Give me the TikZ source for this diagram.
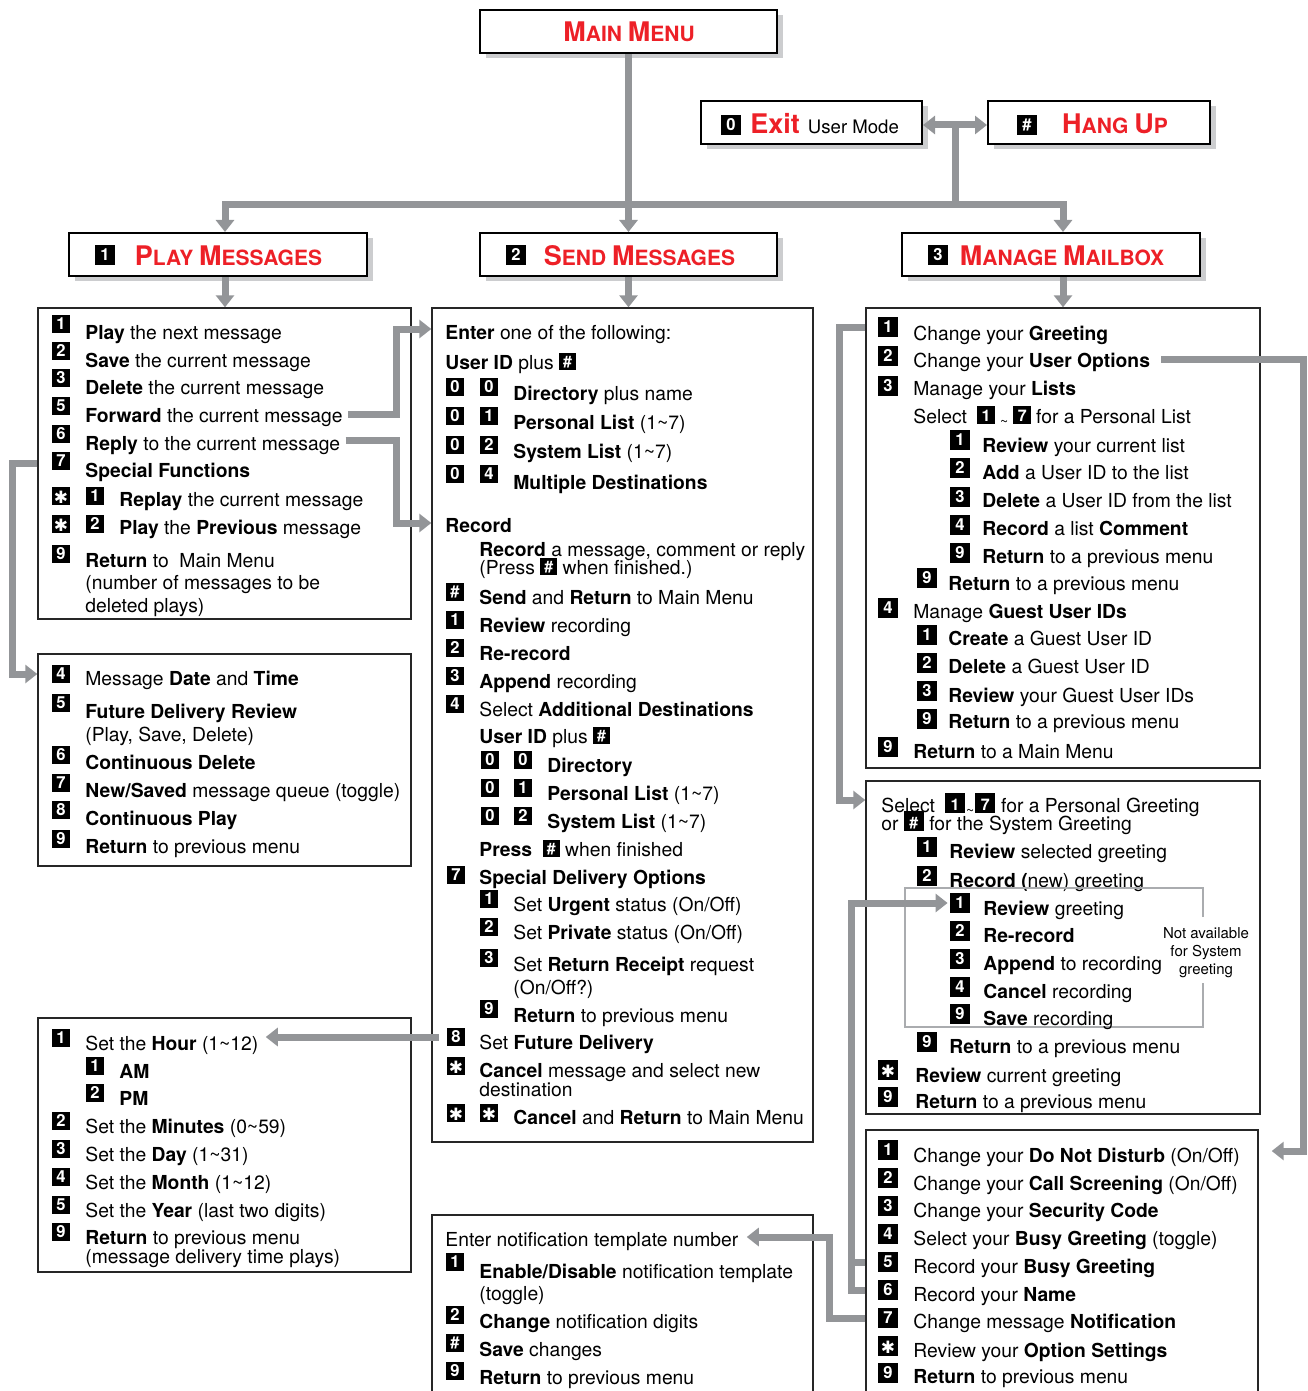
\documentclass[tikz,border=0pt]{standalone}
\usepackage{fontspec}
\setmainfont{TeX Gyre Heros}
\newfontfamily\symfont{DejaVu Sans}
\usetikzlibrary{arrows.meta,fit,shadows,calc}
\definecolor{menured}{RGB}{237,32,39}
\definecolor{conngray}{RGB}{147,149,152}
\definecolor{shadowgray}{RGB}{204,205,207}
\definecolor{innergray}{RGB}{170,172,175}
\newcommand{\bigc}[1]{{\fontsize{13.5}{14}\selectfont #1}}
\newcommand{\kstar}{\raisebox{-0.6pt}{\symfont\bfseries\fontsize{8.5}{8.5}\selectfont ✱}}
\newcommand{\ik}[2][8.5pt]{\raisebox{1pt}{\setlength{\fboxsep}{0pt}\colorbox{black}{\makebox[#1]{\rule[-1.7pt]{0pt}{#1}\textcolor{white}{\bfseries\fontsize{8}{8}\selectfont #2}}}}}
\newcommand{\lowtilde}{{\fontsize{7}{7}\selectfont\raisebox{-1.5pt}{\textasciitilde}}}
\begin{document}
\begin{tikzpicture}[x=0.5pt,y=-0.5pt,
	ttlbox/.style={draw=black,line width=1pt,fill=white,inner sep=0pt,
		drop shadow={shadow xshift=3pt,shadow yshift=-2.7pt,fill=shadowgray,opacity=1}},
	mbox/.style={draw=black!85,line width=0.7pt,inner sep=0pt},
	keyb/.style={fill=black,text=white,inner sep=0pt,minimum size=9pt,
		text height=5.9pt,text depth=0pt,font=\bfseries\fontsize{8.3}{8.3}\selectfont},
	bigkey/.style={keyb,minimum size=10pt},
	smallkey/.style={keyb,minimum size=8.6pt},
	txt/.style={anchor=base west,inner sep=0pt,text height=7pt,text depth=2pt,
		font=\fontsize{9.65}{11}\selectfont},
	ttl/.style={anchor=base,inner sep=0pt,text=menured,font=\bfseries\fontsize{10.5}{12}\selectfont},
	notetxt/.style={anchor=base,inner sep=0pt,font=\fontsize{7.5}{9}\selectfont},
	conn/.style={draw=conngray,line width=3.5pt,line join=miter},
	arr/.style={-{Triangle[width=9pt,length=6pt]}},
	arrs/.style={{Triangle[width=9pt,length=6pt]}-{Triangle[width=9pt,length=6pt]}}]
	\useasboundingbox (0,0) rectangle (1307,1391);
	\clip (0,0) rectangle (1307,1391);
	%标题框
	\node[ttlbox,fit={(480,10) (777,53)}] (mainbox) {};
	\node[ttl] (maint) at (629,42) {\bigc{M}AIN \bigc{M}ENU};
	\node[ttlbox,fit={(701,101) (922,144)}] (exitbox) {};
	\node[bigkey] (exitk) at (731,125) {0};
	\node[txt] (exitt) at (750,134) {\textcolor{menured}{\bfseries\fontsize{13.5}{14}\selectfont Exit}\hspace{4pt}{\fontsize{9.3}{11}\selectfont User Mode}};
	\node[ttlbox,fit={(988,101) (1210,144)}] (hangbox) {};
	\node[bigkey] (hangk) at (1027,125) {\#};
	\node[ttl] (hangt) at (1115,134) {\bigc{H}ANG \bigc{U}P};
	\node[ttlbox,fit={(69,233) (367,276)}] (playttl) {};
	\node[bigkey] (playk) at (105,255) {1};
	\node[ttl] (playt) at (228.5,265) {\bigc{P}LAY \bigc{M}ESSAGES};
	\node[ttlbox,fit={(480,233) (777,276)}] (sendttl) {};
	\node[bigkey] (sendk) at (516,255) {2};
	\node[ttl] (sendt) at (639.5,265) {\bigc{S}END \bigc{M}ESSAGES};
	\node[ttlbox,fit={(902,233) (1200,276)}] (mgrttl) {};
	\node[bigkey] (mgrk) at (938,255) {3};
	\node[ttl] (mgrt) at (1062,265) {\bigc{M}ANAGE \bigc{M}AILBOX};
	%播放消息
	\node[mbox,fit={(38,308) (411,619)}] (playbox) {};
	\node[keyb] (p1k) at (61,324) {1};
	\node[txt] (p1) at (85,339) {\textbf{Play} the next message};
	\node[keyb] (p2k) at (61,351) {2};
	\node[txt] (p2) at (85,367) {\textbf{Save} the current message};
	\node[keyb] (p3k) at (61,378) {3};
	\node[txt] (p3) at (85,394) {\textbf{Delete} the current message};
	\node[keyb] (p5k) at (61,406) {5};
	\node[txt] (p5) at (85,422) {\textbf{Forward} the current message};
	\node[keyb] (p6k) at (61,434) {6};
	\node[txt] (p6) at (85,450) {\textbf{Reply} to the current message};
	\node[keyb] (p7k) at (61,461) {7};
	\node[txt] (p7) at (85,477) {\textbf{Special Functions}};
	\node[keyb] (p8k) at (61,496) {\kstar};
	\node[keyb] (p8m) at (95,496) {1};
	\node[txt] (p8) at (119,506) {\textbf{Replay} the current message};
	\node[keyb] (p9k) at (61,524) {\kstar};
	\node[keyb] (p9m) at (95,524) {2};
	\node[txt] (p9) at (119,534) {\textbf{Play} the \textbf{Previous} message};
	\node[keyb] (p0k) at (61,554) {9};
	\node[txt] (p0) at (85,567) {\textbf{Return} to \ Main Menu};
	\node[txt] (p0b) at (85,589) {(number of messages to be};
	\node[txt] (p0c) at (85,612) {deleted plays)};
	%特殊功能
	\node[mbox,fit={(38,654) (411,866)}] (spbox) {};
	\node[keyb] (f4k) at (61,674) {4};
	\node[txt] (f4) at (85,685) {Message \textbf{Date} and \textbf{Time}};
	\node[keyb] (f5k) at (61,703) {5};
	\node[txt] (f5) at (85,718) {\textbf{Future Delivery Review}};
	\node[txt] (f5b) at (85,741) {(Play, Save, Delete)};
	\node[keyb] (f6k) at (61,755) {6};
	\node[txt] (f6) at (85,769) {\textbf{Continuous Delete}};
	\node[keyb] (f7k) at (61,783) {7};
	\node[txt] (f7) at (85,797) {\textbf{New/Saved} message queue (toggle)};
	\node[keyb] (f8k) at (61,810) {8};
	\node[txt] (f8) at (85,825) {\textbf{Continuous Play}};
	\node[keyb] (f9k) at (61,839) {9};
	\node[txt] (f9) at (85,853) {\textbf{Return} to previous menu};
	%时间设置
	\node[mbox,fit={(38,1018) (411,1272)}] (hourbox) {};
	\node[keyb] (h1k) at (61,1038) {1};
	\node[txt] (h1) at (85,1050) {Set the \textbf{Hour} (1\textasciitilde12)};
	\node[keyb] (h1ak) at (95,1066) {1};
	\node[txt] (h1a) at (119,1078) {\textbf{AM}};
	\node[keyb] (h1bk) at (95,1093) {2};
	\node[txt] (h1b) at (119,1105) {\textbf{PM}};
	\node[keyb] (h2k) at (61,1121) {2};
	\node[txt] (h2) at (85,1133) {Set the \textbf{Minutes} (0\textasciitilde59)};
	\node[keyb] (h3k) at (61,1149) {3};
	\node[txt] (h3) at (85,1161) {Set the \textbf{Day} (1\textasciitilde31)};
	\node[keyb] (h4k) at (61,1177) {4};
	\node[txt] (h4) at (85,1189) {Set the \textbf{Month} (1\textasciitilde12)};
	\node[keyb] (h5k) at (61,1205) {5};
	\node[txt] (h5) at (85,1217) {Set the \textbf{Year} (last two digits)};
	\node[keyb] (h9k) at (61,1232) {9};
	\node[txt] (h9) at (85,1244) {\textbf{Return} to previous menu};
	\node[txt] (h9b) at (85,1263) {(message delivery time plays)};
	%发送消息
	\node[mbox,fit={(432,308) (813,1142)}] (sendbox) {};
	\node[txt] (s0) at (445,339) {\textbf{Enter} one of the following:};
	\node[txt] (s1) at (445,369) {\textbf{User ID} plus \ik{\#}};
	\node[smallkey] (s2k) at (455,387) {0};
	\node[smallkey] (s2m) at (489,387) {0};
	\node[txt] (s2) at (513,400) {\textbf{Directory} plus name};
	\node[smallkey] (s3k) at (455,416) {0};
	\node[smallkey] (s3m) at (489,416) {1};
	\node[txt] (s3) at (513,429) {\textbf{Personal List} (1\textasciitilde7)};
	\node[smallkey] (s4k) at (455,445) {0};
	\node[smallkey] (s4m) at (489,445) {2};
	\node[txt] (s4) at (513,458) {\textbf{System List} (1\textasciitilde7)};
	\node[smallkey] (s5k) at (455,474) {0};
	\node[smallkey] (s5m) at (489,474) {4};
	\node[txt] (s5) at (513,489) {\textbf{Multiple Destinations}};
	\node[txt] (r0) at (445,532) {\textbf{Record}};
	\node[txt] (r1) at (479,556) {\textbf{Record} a message, comment or reply};
	\node[txt] (r1b) at (479,574) {(Press \ik{\#} when finished.)};
	\node[smallkey] (r2k) at (455,592) {\#};
	\node[txt] (r2) at (479,604) {\textbf{Send} and \textbf{Return} to Main Menu};
	\node[smallkey] (r3k) at (455,620) {1};
	\node[txt] (r3) at (479,632) {\textbf{Review} recording};
	\node[smallkey] (r4k) at (455,648) {2};
	\node[txt] (r4) at (479,660) {\textbf{Re-record}};
	\node[smallkey] (r5k) at (455,676) {3};
	\node[txt] (r5) at (479,688) {\textbf{Append} recording};
	\node[smallkey] (r6k) at (455,704) {4};
	\node[txt] (r6) at (479,716) {Select \textbf{Additional Destinations}};
	\node[txt] (r7) at (479,743) {\textbf{User ID} plus \ik{\#}};
	\node[smallkey] (r8k) at (490,760) {0};
	\node[smallkey] (r8m) at (523,760) {0};
	\node[txt] (r8) at (547,772) {\textbf{Directory}};
	\node[smallkey] (r9k) at (490,788) {0};
	\node[smallkey] (r9m) at (523,788) {1};
	\node[txt] (r9) at (547,800) {\textbf{Personal List} (1\textasciitilde7)};
	\node[smallkey] (r10k) at (490,816) {0};
	\node[smallkey] (r10m) at (523,816) {2};
	\node[txt] (r10) at (547,828) {\textbf{System List} (1\textasciitilde7)};
	\node[txt] (r11) at (479,856) {\textbf{Press} \ \ik{\#} when finished};
	\node[smallkey] (d0k) at (456,875) {7};
	\node[txt] (d0) at (479,884) {\textbf{Special Delivery Options}};
	\node[smallkey] (d1k) at (489,899) {1};
	\node[txt] (d1) at (513,911) {Set \textbf{Urgent} status (On/Off)};
	\node[smallkey] (d2k) at (489,927) {2};
	\node[txt] (d2) at (513,939) {Set \textbf{Private} status (On/Off)};
	\node[smallkey] (d3k) at (489,958) {3};
	\node[txt] (d3) at (513,971) {Set \textbf{Return Receipt} request};
	\node[txt] (d3b) at (513,994) {(On/Off?)};
	\node[smallkey] (d9k) at (489,1009) {9};
	\node[txt] (d9) at (513,1022) {\textbf{Return} to previous menu};
	\node[smallkey] (s8k) at (456,1037) {8};
	\node[txt] (s8) at (479,1049) {Set \textbf{Future Delivery}};
	\node[smallkey] (sck) at (456,1066) {\kstar};
	\node[txt] (sc) at (479,1077) {\textbf{Cancel} message and select new};
	\node[txt] (scb) at (479,1096) {destination};
	\node[smallkey] (sxk) at (456,1113) {\kstar};
	\node[smallkey] (sxm) at (489,1113) {\kstar};
	\node[txt] (sx) at (513,1124) {\textbf{Cancel} and \textbf{Return} to Main Menu};
	%通知模板
	\node[mbox,fit={(432,1215) (813,1396)}] (ntfbox) {};
	\node[txt] (n0) at (445,1246) {Enter notification template number};
	\node[smallkey] (n1k) at (455,1262) {1};
	\node[txt] (n1) at (479,1278) {\textbf{Enable/Disable} notification template};
	\node[txt] (n1b) at (479,1300) {(toggle)};
	\node[smallkey] (n2k) at (455,1315) {2};
	\node[txt] (n2) at (479,1328) {\textbf{Change} notification digits};
	\node[smallkey] (n3k) at (455,1343) {\#};
	\node[txt] (n3) at (479,1356) {\textbf{Save} changes};
	\node[smallkey] (n9k) at (455,1371) {9};
	\node[txt] (n9) at (479,1384) {\textbf{Return} to previous menu};
	%管理信箱
	\node[mbox,fit={(866,308) (1260,768)}] (mgrbox) {};
	\node[bigkey] (m1k) at (888,327) {1};
	\node[txt] (m1) at (913,340) {Change your \textbf{Greeting}};
	\node[bigkey] (m2k) at (888,356) {2};
	\node[txt] (m2) at (913,367) {Change your \textbf{User Options}};
	\node[bigkey] (m3k) at (888,386) {3};
	\node[txt] (m3) at (913,395) {Manage your \textbf{Lists}};
	\node[txt] (m3s) at (913,423) {Select\hspace{5pt}\ik[9pt]{1}\hspace{2.5pt}\lowtilde\hspace{2.5pt}\ik[9pt]{7}\hspace{2.5pt}for a Personal List};
	\node[bigkey] (l1k) at (960,440) {1};
	\node[txt] (l1) at (982,452) {\textbf{Review} your current list};
	\node[bigkey] (l2k) at (960,468) {2};
	\node[txt] (l2) at (982,479) {\textbf{Add} a User ID to the list};
	\node[bigkey] (l3k) at (960,497) {3};
	\node[txt] (l3) at (982,507) {\textbf{Delete} a User ID from the list};
	\node[bigkey] (l4k) at (960,525) {4};
	\node[txt] (l4) at (982,535) {\textbf{Record} a list \textbf{Comment}};
	\node[bigkey] (l9k) at (960,553) {9};
	\node[txt] (l9) at (982,563) {\textbf{Return} to a previous menu};
	\node[bigkey] (m39k) at (927,578) {9};
	\node[txt] (m39) at (948,590) {\textbf{Return} to a previous menu};
	\node[bigkey] (m4k) at (888,608) {4};
	\node[txt] (m4) at (913,618) {Manage \textbf{Guest User IDs}};
	\node[bigkey] (g1k) at (927,635) {1};
	\node[txt] (g1) at (948,645) {\textbf{Create} a Guest User ID};
	\node[bigkey] (g2k) at (927,663) {2};
	\node[txt] (g2) at (948,673) {\textbf{Delete} a Guest User ID};
	\node[bigkey] (g3k) at (927,691) {3};
	\node[txt] (g3) at (948,702) {\textbf{Review} your Guest User IDs};
	\node[bigkey] (g9k) at (927,719) {9};
	\node[txt] (g9) at (948,728) {\textbf{Return} to a previous menu};
	\node[bigkey] (m9k) at (888,747) {9};
	\node[txt] (m9) at (913,758) {\textbf{Return} to a Main Menu};
	%问候语
	\node[mbox,fit={(866,781) (1260,1114)}] (grbox) {};
	\node[txt] (gr0) at (881,812) {Select\hspace{5pt}\ik[10pt]{1}\hspace{0.5pt}\lowtilde\hspace{0.5pt}\ik[10pt]{7}\hspace{3pt}for a Personal Greeting};
	\node[txt] (gr0b) at (881,830) {or \ik[10pt]{\#} for the System Greeting};
	\node[bigkey] (gr1k) at (927,847) {1};
	\node[txt] (gr1) at (949,858) {\textbf{Review} selected greeting};
	\node[bigkey] (gr2k) at (927,876) {2};
	\node[txt] (gr2) at (949,887) {\textbf{Record (}new) greeting};
	\draw[innergray,line width=1.2pt] (1203,917) -- (1203,888) -- (905,888) -- (905,1027) -- (1203,1027) -- (1203,983);
	\node[bigkey] (i1k) at (960,903) {1};
	\node[txt] (i1) at (983,915) {\textbf{Review} greeting};
	\node[bigkey] (i2k) at (960,931) {2};
	\node[txt] (i2) at (983,942) {\textbf{Re-record}};
	\node[bigkey] (i3k) at (960,959) {3};
	\node[txt] (i3) at (983,970) {\textbf{Append} to recording};
	\node[bigkey] (i4k) at (960,987) {4};
	\node[txt] (i4) at (983,998) {\textbf{Cancel} recording};
	\node[bigkey] (i9k) at (960,1014) {9};
	\node[txt] (i9) at (983,1025) {\textbf{Save} recording};
	\node[notetxt] (na1) at (1206,938) {Not available};
	\node[notetxt] (na2) at (1206,956) {for System};
	\node[notetxt] (na3) at (1206,974) {greeting};
	\node[bigkey] (gr9k) at (927,1042) {9};
	\node[txt] (gr9) at (949,1053) {\textbf{Return} to a previous menu};
	\node[bigkey] (grsk) at (888,1070) {\kstar};
	\node[txt] (grs) at (915,1082) {\textbf{Review} current greeting};
	\node[bigkey] (grxk) at (888,1097) {9};
	\node[txt] (grx) at (915,1108) {\textbf{Return} to a previous menu};
	%用户选项
	\node[mbox,fit={(866,1130) (1258,1396)}] (uobox) {};
	\node[bigkey] (u1k) at (888,1150) {1};
	\node[txt] (u1) at (913,1162) {Change your \textbf{Do Not Disturb} (On/Off)};
	\node[bigkey] (u2k) at (888,1178) {2};
	\node[txt] (u2) at (913,1190) {Change your \textbf{Call Screening} (On/Off)};
	\node[bigkey] (u3k) at (888,1206) {3};
	\node[txt] (u3) at (913,1217) {Change your \textbf{Security Code}};
	\node[bigkey] (u4k) at (888,1234) {4};
	\node[txt] (u4) at (913,1245) {Select your \textbf{Busy Greeting} (toggle)};
	\node[bigkey] (u5k) at (888,1262) {5};
	\node[txt] (u5) at (913,1273) {Record your \textbf{Busy Greeting}};
	\node[bigkey] (u6k) at (888,1290) {6};
	\node[txt] (u6) at (913,1301) {Record your \textbf{Name}};
	\node[bigkey] (u7k) at (888,1318) {7};
	\node[txt] (u7) at (913,1328) {Change message \textbf{Notification}};
	\node[bigkey] (u8k) at (888,1346) {\kstar};
	\node[txt] (u8) at (913,1357) {Review your \textbf{Option Settings}};
	\node[bigkey] (u9k) at (888,1373) {9};
	\node[txt] (u9) at (913,1383) {\textbf{Return} to previous menu};
	%连线
	\coordinate (barL) at (225,205);
	\coordinate (barR) at (1063,205);
	\coordinate (hubB) at (955,205);
	\coordinate (hubT) at (955,125);
	\draw[conn,arr] (mainbox.south) -- (mainbox.south |- sendttl.north);
	\draw[conn,arrs] (barL |- playttl.north) -- (barL) -- (barR) -- (barR |- mgrttl.north);
	\draw[conn] (hubB) -- (hubT);
	\draw[conn,arrs] (exitbox.east |- hubT) -- (hangbox.west |- hubT);
	\draw[conn,arr] (barL |- playttl.south) -- (barL |- playbox.north);
	\draw[conn,arr] (mainbox.south |- sendttl.south) -- (mainbox.south |- sendbox.north);
	\draw[conn,arr] (barR |- mgrttl.south) -- (barR |- mgrbox.north);
	\coordinate (fwdB) at (396,329);
	\draw[conn,arr] ($(p5.east)+(5,-3)$) -| (fwdB) -- (fwdB -| sendbox.west);
	\coordinate (rplB) at (396,523);
	\draw[conn,arr] ($(p6.east)+(5,-5)$) -| (rplB) -- (rplB -| sendbox.west);
	\coordinate (spcA) at (12,463);
	\coordinate (spcB) at (12,674);
	\draw[conn,arr] (spcA -| playbox.west) -- (spcA) -- (spcB) -- (spcB -| spbox.west);
	\draw[conn,arr] ($(s8k.west)+(-8,0)$) -- ($(h1.east |- s8k.west)+(7,0)$);
	\coordinate (ntfA) at (829,1237);
	\draw[conn,arr] (uobox.west |- u7k) -| (ntfA) -- ($(n0.east |- ntfA)+(8,0)$);
	\coordinate (grA) at (839,800);
	\draw[conn,arr] (mgrbox.west |- m1k) -| (grA) -- (grA -| grbox.west);
	\coordinate (uoA) at (1303,1151);
	\draw[conn,arr] ($(m2.east)+(11,-3)$) -| (uoA) -- ($(uobox.east |- uoA)+(13,0)$);
	\coordinate (bgA) at (851,903);
	\draw[conn] (uobox.west |- u5k) -- (u5k -| bgA);
	\draw[conn,arr] (uobox.west |- u6k) -| (bgA) -- ($(i1k.west)+(-2,0)$);
\end{tikzpicture}
\end{document}
